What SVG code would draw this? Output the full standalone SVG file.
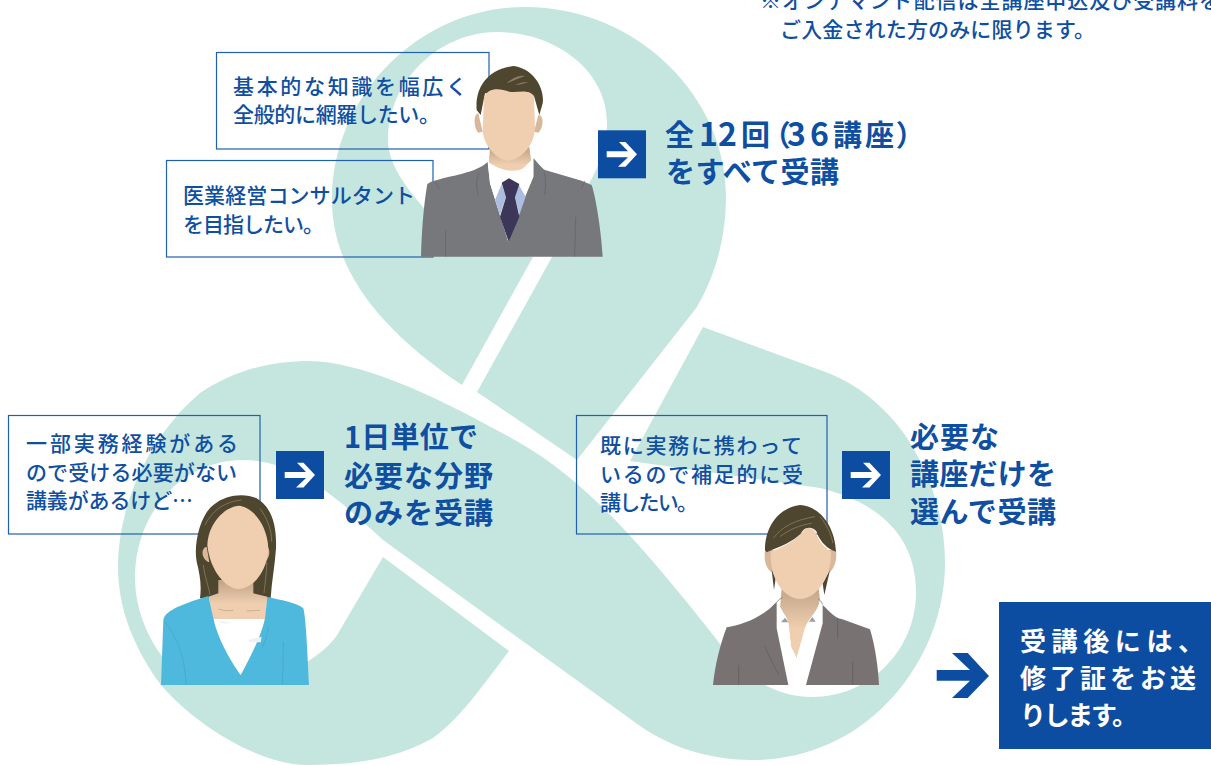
<svg xmlns="http://www.w3.org/2000/svg" width="1211" height="765" viewBox="0 0 1211 765">
<style>
text{font-family:"Noto Sans CJK JP","Noto Sans",sans-serif;fill:#0f4fa2}
.b{font-size:21px;font-weight:500}
.h{font-size:29px;font-weight:700}
.p{font-feature-settings:"palt"}
.d{font-size:32px}
.w{font-size:26px;font-weight:700;fill:#fff}
.box{fill:none;stroke:#2160af;stroke-width:1.2}
.sq{fill:#0d4da1}
.hair{fill:#4f4630}
.face{fill:#efcfb0}
.ear{fill:#d9b79b}
.hl{fill:none;stroke:#7f7256;stroke-width:3}
.fold{fill:none;stroke-width:3;opacity:.55}
</style>
<defs>
<linearGradient id="neck" x1="0" y1="0" x2="0" y2="1"><stop offset="0" stop-color="#bfa185"/><stop offset=".6" stop-color="#efcfb0"/></linearGradient>
<g id="arr"><rect class="sq" width="48" height="48"/><polygon fill="#fff" points="8.7,21 30,21 21,11.7 27.5,11.7 39,24 27.5,36.5 20,36.5 30,27 8.7,27"/></g>
</defs>
<rect width="1211" height="765" fill="#fff"/>
<g id="ribbon" fill="#c5e6df">
<path d="M310,361 C360,362 430,392 520,443 C590,483 650,555 717,640 C745,678 775,697 812,697 C870,697 916,650 916,592 C916,530 870,500 820,488 L630,461 L703,327 L820,370 C850,380 880,400 905,435 C935,480 945,525 945,563 C945,625 915,675 887,703 C850,742 800,760 753,760 C710,760 672,748 640,726 L383,540 C350,510 300,460 243,460 C180,460 135,515 135,577 C135,605 145,635 165,660 C200,690 280,680 310,660 C325,650 335,640 340,630 L383,557 L509,651 C478,692 460,718 433,738 C395,760 350,765 307,765 C260,765 195,725 161,685 C135,650 118,610 118,567 C118,510 145,440 200,393 C235,370 270,361 310,361 Z"/>
<path d="M462,385 L533,257 C490,250 445,235 423,207 C400,180 388,160 388,140 C388,80 440,32 497,32 C555,32 607,70 607,123 C607,150 595,175 585,190 L552,257 L477,392 L577,460 L697,307 C715,275 726,240 726,195 C726,100 640,7 525,7 C420,7 332,95 332,200 C332,270 380,330 462,385 Z"/>
</g>
<g id="note">
<text class="b" x="760" y="8" textLength="460">※オンデマンド配信は全講座申込及び受講料を</text>
<text class="b" x="780" y="37" textLength="315">ご入金された方のみに限ります。</text>
</g>
<g id="box-full-a"><rect class="box" x="216.5" y="52.5" width="272.500" height="96.500"/>
<text class="b" x="233" y="94" textLength="234">基本的な知識を幅広く</text>
<text class="b" x="233" y="122" textLength="207">全般的に網羅したい。</text></g>
<g id="box-full-b"><rect class="box" x="166.500" y="160.500" width="266.500" height="96.500"/>
<text class="b" x="183" y="203" textLength="232">医業経営コンサルタント</text>
<text class="b" x="183" y="232" textLength="141">を目指したい。</text></g>
<g id="box-day"><rect class="box" x="8.500" y="415.500" width="251.500" height="118.500"/>
<text class="b" x="26" y="451" textLength="212">一部実務経験がある</text>
<text class="b" x="26" y="480" textLength="211">ので受ける必要がない</text>
<text class="b" x="26" y="508" textLength="167">講義があるけど…</text></g>
<g id="box-select"><rect class="box" x="576.500" y="415.500" width="250.500" height="118.500"/>
<text class="b" x="600" y="453" textLength="202">既に実務に携わって</text>
<text class="b" x="600" y="482" textLength="203">いるので補足的に受</text>
<text class="b" x="600" y="510" textLength="98">講したい。</text></g>

<g id="person-man" transform="translate(410,60) scale(.33333)">
<path class="hair" d="M200,150 C195,90 225,30 310,18 C370,25 405,85 398,130 L388,165 L372,108 L225,100 L212,165 Z"/>
<path class="ear" d="M205,160 C188,165 192,205 205,218 L218,215 Z M385,165 C404,165 400,205 385,218 L372,215 Z"/>
<path fill="url(#neck)" d="M240,265 L236,310 L280,350 L330,350 L364,305 L358,262 Z"/>
<path class="face" d="M222,112 C235,80 270,85 298,95 C320,100 355,85 372,108 L375,210 C368,270 320,302 295,302 C265,300 225,265 218,215 Z"/>
<path fill="#8a7d60" d="M290,70 C310,50 335,45 345,48 C325,55 305,65 290,70 Z M315,75 C330,68 345,65 355,66 C340,72 325,75 315,75 Z"/>
<path fill="#77787c" d="M33,590 C35,520 40,440 52,372 L62,366 C120,345 200,340 233,305 L240,370 L295,545 L345,410 L370,350 L370,295 C385,310 395,325 405,330 L515,362 L545,375 C560,420 575,530 578,590 Z"/>
<path fill="#fff" d="M233,305 C255,320 300,345 340,325 L370,295 L370,350 L345,410 L295,545 L240,370 Z"/>
<path fill="#adbde0" d="M275,372 L255,420 L270,465 L288,410 Z M325,372 L347,410 L328,465 L315,410 Z"/>
<path fill="#3c3659" d="M275,368 L297,355 L328,372 L315,412 L328,470 L296,545 L270,470 L288,412 Z"/>
<path class="fold" stroke="#5b5d61" d="M207,340 C198,360 198,380 205,405 M402,335 C408,355 408,380 403,405 M107,510 L107,590 M497,470 L494,590 M75,365 L88,388 M525,362 L514,385"/>
</g>

<g id="person-woman" transform="translate(150,485) scale(.33333)">
<path class="hair" d="M150,340 C155,300 150,270 140,230 C130,180 150,90 190,60 C230,25 290,25 320,40 C370,70 380,130 378,190 C375,240 365,290 362,340 L310,345 L205,345 Z"/>
<path class="hl" d="M160,240 C165,280 175,300 180,330 M350,230 C350,270 345,290 342,325 M165,120 C190,70 230,50 275,45 M330,70 C350,100 365,130 365,170"/>
<path class="ear" d="M170,185 C150,190 155,225 178,232 Z M352,185 C362,195 360,215 345,232 Z"/>
<path fill="url(#neck)" d="M205,285 L205,325 L175,335 L190,405 L345,405 L352,335 L310,325 L310,285 Z"/>
<path class="face" d="M172,180 C175,110 230,62 270,62 C310,70 352,120 355,190 C352,260 310,310 265,312 C230,312 180,260 172,180 Z"/>
<path fill="none" stroke="#d2ad8e" stroke-width="3" d="M205,372 C225,378 240,378 250,376 M290,378 L330,376"/>
<path fill="#fff" d="M190,402 L345,402 C335,450 300,520 272,570 C250,540 205,470 190,402 Z"/>
<path fill="#4fb8dd" d="M33,600 L40,405 C45,380 80,362 175,333 L190,400 C205,470 250,540 272,570 C300,520 335,450 345,400 L352,335 C390,345 440,352 460,370 C468,400 472,500 477,600 Z"/>
<path class="fold" stroke="#3f9fc4" d="M45,410 C80,460 105,510 108,600 M400,470 C400,510 398,560 398,600 M335,490 C345,470 352,450 356,425"/>
<path fill="#eef0f1" d="M195,408 L245,412 L225,416 Z M295,465 L335,455 L332,472 L300,472 Z"/>
</g>

<g id="person-woman2" transform="translate(705,495) scale(.33333)">
<path class="ear" d="M180,165 C175,200 185,225 205,235 L205,165 Z M393,165 C398,200 385,225 370,235 L370,165 Z"/>
<path class="hair" d="M200,225 L207,285 L212,250 Z M375,225 L358,300 L353,265 Z"/>
<path fill="url(#neck)" d="M230,280 L225,340 C240,365 250,370 252,400 L258,455 L275,490 L300,400 C310,370 340,350 345,315 L340,270 Z"/>
<path class="face" d="M197,170 C240,155 280,130 300,102 C312,95 330,100 338,125 C345,145 365,160 378,170 C380,240 340,310 285,312 C240,310 195,260 197,170 Z"/>
<path class="hair" d="M180,165 C180,100 215,40 285,30 C350,35 390,100 393,170 L380,165 C360,155 340,130 335,110 C325,95 305,95 295,105 C280,130 240,150 200,165 L185,172 Z"/>
<path fill="none" stroke="#7f7256" stroke-width="3" d="M205,130 C230,95 270,75 330,65 M225,125 C250,105 285,90 320,85 M345,65 C365,90 378,115 384,145"/>
<path fill="#fff" d="M215,320 L228,340 C240,365 250,370 252,400 L258,455 L275,490 L300,400 C310,370 340,350 345,315 L353,325 L350,400 L303,570 L250,570 L215,400 Z"/>
<path fill="#787372" d="M24,570 C30,510 45,450 65,397 C110,390 170,370 215,320 L215,400 L250,570 Z M303,570 L353,385 L353,330 C375,350 390,370 410,372 L495,403 C510,450 520,520 522,570 Z"/>
<path fill="none" stroke="#66625f" stroke-width="2" d="M215,322 C222,312 228,310 232,308 M353,328 C348,318 345,315 340,312"/>
<path fill="#9a9da5" d="M228,382 L240,368 L250,382 Z M312,380 L322,366 L332,380 Z"/>
<path class="fold" stroke="#5a5654" d="M180,455 C195,490 210,520 222,540 M398,370 L398,430 M101,510 L101,570 M443,500 L443,570"/>
</g>

<g id="connectors">
<use href="#arr" x="598" y="130.300"/>
<use href="#arr" x="276" y="451"/>
<use href="#arr" x="842" y="451"/>
<polygon class="sq" points="936.700,670 970,670 952,653 967.700,653 989,676 967.700,698 952,698 970,680.700 936.700,680.700"/>
</g>

<g id="result-full">
<text class="h p" y="146"><tspan x="665">全</tspan><tspan class="d" x="699">1</tspan><tspan class="d" x="718">2</tspan><tspan x="741">回</tspan><tspan x="775">（</tspan><tspan class="d" x="787">3</tspan><tspan class="d" x="810">6</tspan><tspan x="833">講</tspan><tspan x="865">座</tspan><tspan x="897">）</tspan></text>
<text class="h" x="666" y="183" textLength="173">をすべて受講</text>
</g>
<g id="result-day">
<text class="h" x="344" y="448" textLength="134">1日単位で</text>
<text class="h" x="344" y="487" textLength="149">必要な分野</text>
<text class="h" x="344" y="524" textLength="149">のみを受講</text>
</g>
<g id="result-select">
<text class="h" x="910" y="448" textLength="89">必要な</text>
<text class="h" x="910" y="485" textLength="146">講座だけを</text>
<text class="h" x="910" y="523" textLength="146">選んで受講</text>
</g>
<g id="certificate">
<rect class="sq" x="999" y="602" width="212" height="147"/>
<text class="w" x="1020" y="651" textLength="184">受講後には、</text>
<text class="w" x="1020" y="688" textLength="176">修了証をお送</text>
<text class="w" x="1020" y="725" textLength="118">りします。</text>
</g>
</svg>
